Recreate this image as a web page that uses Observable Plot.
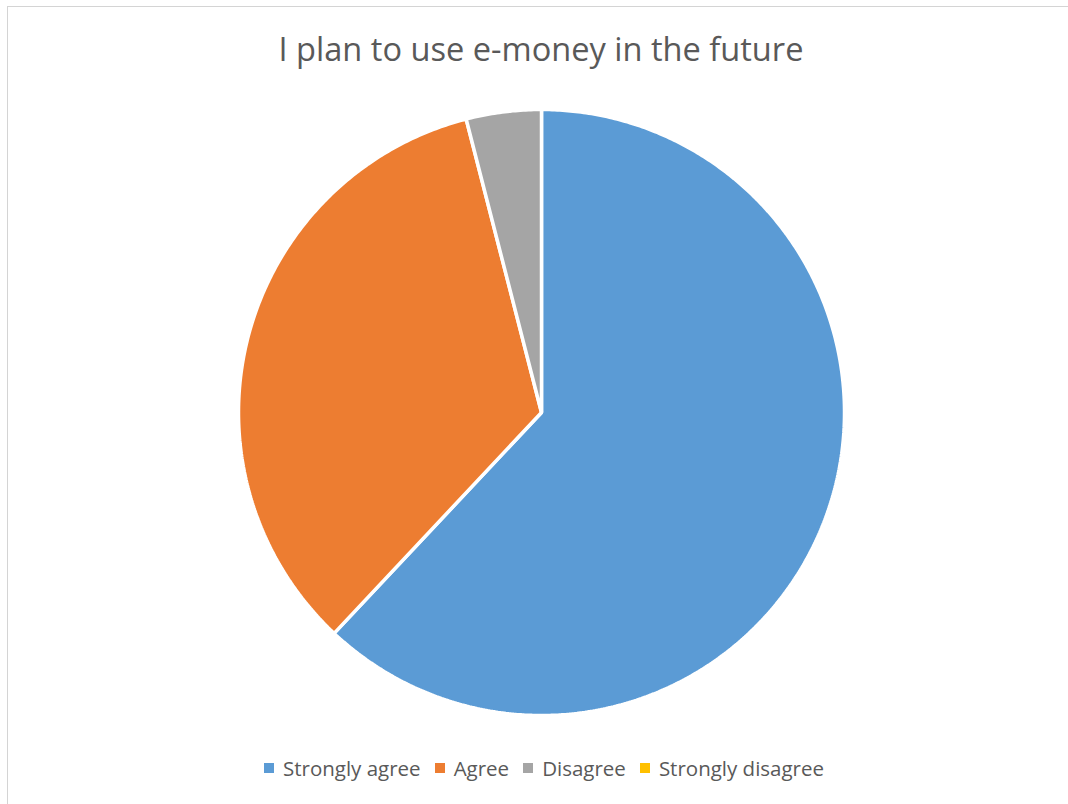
<!DOCTYPE html>
<html>
<head>
<meta charset="utf-8">
<script src="https://cdn.jsdelivr.net/npm/d3@7"></script>
<script src="https://cdn.jsdelivr.net/npm/@observablehq/plot@0.6"></script>
<style>
  html, body { margin: 0; padding: 0; background: #fff; overflow: hidden; }
  #page { position: relative; width: 1068px; height: 804px; overflow: hidden; font-family: "Open Sans", sans-serif; color: #595959; }
  #frame { position: absolute; left: 7px; top: 6px; width: 1100px; height: 850px; border: 1px solid #d4d4d4; box-sizing: border-box; }
  #chart { position: absolute; left: 0; top: 0; }
  #title { position: absolute; left: 0; width: 1082px; top: 26px; text-align: center; font-size: 32.6px; white-space: nowrap; }
  #legend { position: absolute; left: 0; width: 1088px; top: 754px; display: flex; justify-content: center; align-items: center; font-size: 20.5px; white-space: nowrap; }
  .item { display: flex; align-items: center; margin: 0 7px; }
  .sw { width: 10px; height: 10px; margin-right: 9px; }
</style>
</head>
<body>
<div id="page">
  <div id="frame"></div>
  <div id="chart"></div>
  <div id="title">I plan to use e-money in the future</div>
  <div id="legend"></div>
</div>
<script>
const categories = ["Strongly agree", "Agree", "Disagree", "Strongly disagree"];
const values = [62, 34, 4, 0];
const colors = ["#5B9BD5", "#ED7D31", "#A5A5A5", "#FFC000"];

const arcs = d3.pie().sort(null).startAngle(0).endAngle(2 * Math.PI)(values);
const pts = [];
arcs.forEach((a, i) => {
  if (a.value <= 0) return;
  const cat = categories[i];
  pts.push({cat, x: 0, y: 0});
  const n = Math.max(2, Math.ceil((a.endAngle - a.startAngle) / (Math.PI / 360)));
  for (let k = 0; k <= n; k++) {
    const t = a.startAngle + (a.endAngle - a.startAngle) * k / n;
    pts.push({cat, x: Math.sin(t), y: Math.cos(t)});
  }
});

const cx = 541, cy = 412, r = 303;
const chart = Plot.plot({
  width: 1068,
  height: 804,
  margin: 0,
  x: {domain: [-1, 1], range: [cx - r, cx + r], axis: null},
  y: {domain: [-1, 1], range: [cy + r, cy - r], axis: null},
  color: {domain: categories, range: colors},
  marks: [
    Plot.line(pts, {x: "x", y: "y", z: "cat", fill: "cat", stroke: "white", strokeWidth: 3.5, strokeLinejoin: "miter", curve: "linear-closed"})
  ]
});
chart.style.background = "transparent";
document.getElementById("chart").appendChild(chart);

const legend = document.getElementById("legend");
categories.forEach((c, i) => {
  const it = document.createElement("div");
  it.className = "item";
  const sw = document.createElement("div");
  sw.className = "sw";
  sw.style.background = colors[i];
  const tx = document.createElement("span");
  tx.textContent = c;
  it.appendChild(sw); it.appendChild(tx);
  legend.appendChild(it);
});
</script>
</body>
</html>
